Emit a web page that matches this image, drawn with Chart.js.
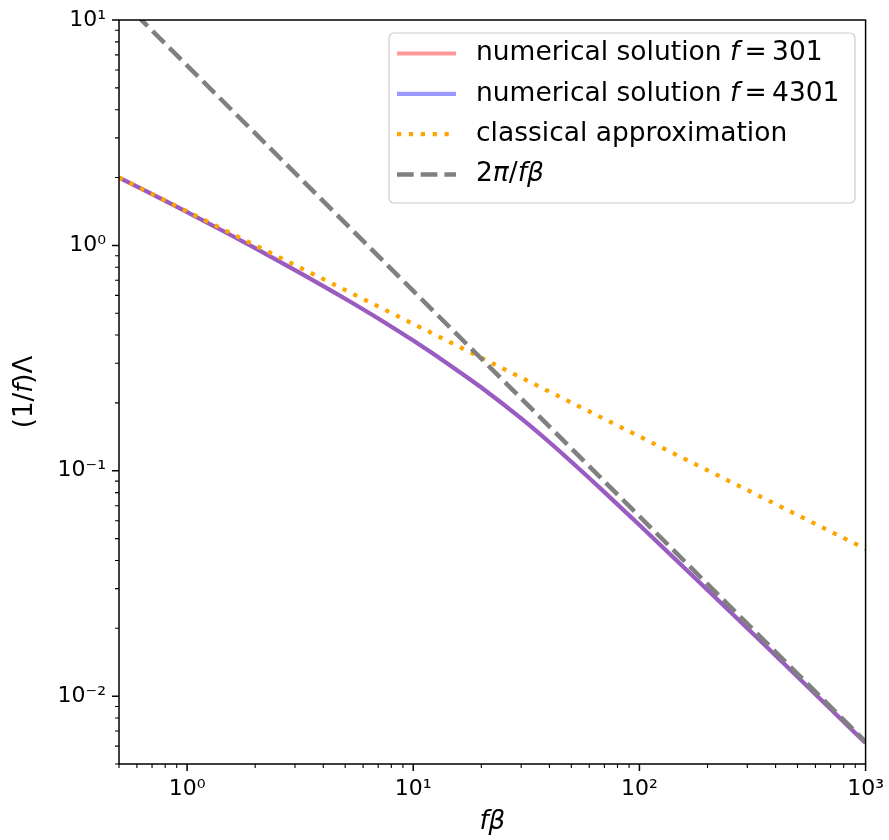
<!DOCTYPE html>
<html>
<head>
<meta charset="utf-8">
<script src="https://cdn.jsdelivr.net/npm/chart.js@4.4.0/dist/chart.umd.min.js"></script>
<style>
  html, body { margin: 0; padding: 0; background: #fff; }
</style>
</head>
<body>
<canvas id="chart" width="889" height="840"></canvas>
<script>
// f*beta sample points and the curves
const fBeta = [0.5, 0.7, 1, 1.5, 2, 3, 5, 7, 10, 15, 20, 30, 40, 50, 70, 100, 150, 200, 300, 500, 700, 1000];
const numerical301 = [2.00, 1.69, 1.405, 1.135, 0.972, 0.777, 0.580, 0.474, 0.378, 0.2875, 0.2341, 0.1707, 0.1338, 0.1096, 0.0804, 0.0575, 0.0390, 0.0296, 0.0200, 0.0122, 0.00878, 0.00619];
const numerical4301 = [2.00, 1.69, 1.405, 1.135, 0.972, 0.777, 0.580, 0.474, 0.378, 0.2875, 0.2341, 0.1707, 0.1338, 0.1096, 0.0804, 0.0575, 0.0390, 0.0296, 0.0200, 0.0122, 0.00878, 0.00619];
const classicalX = [0.5, 1000];
const classicalY = [2.0, 0.045];
const limitX = [0.5, 1000];
const limitY = [12.57, 0.00628];

const xMajorTicks = [1, 10, 100, 1000];
const xMinorTicks = [0.5, 0.6, 0.7, 0.8, 0.9, 2, 3, 4, 5, 6, 7, 8, 9, 20, 30, 40, 50, 60, 70, 80, 90, 200, 300, 400, 500, 600, 700, 800, 900];
const yMajorTicks = [0.01, 0.1, 1, 10];
const yMinorTicks = [0.005, 0.006, 0.007, 0.008, 0.009, 0.02, 0.03, 0.04, 0.05, 0.06, 0.07, 0.08, 0.09, 0.2, 0.3, 0.4, 0.5, 0.6, 0.7, 0.8, 0.9, 2, 3, 4, 5, 6, 7, 8, 9];

const FONT = "'DejaVu Sans'";
const SUP = {'-': '\u207B', '0': '\u2070', '1': '\u00B9', '2': '\u00B2', '3': '\u00B3'};
function powLabel(v) {
    const e = String(Math.round(Math.log10(v)));
    return '10' + e.split('').map(c => SUP[c]).join('');
}

function pts(xs, ys) {
    return xs.map((v, i) => ({x: v, y: ys[i]}));
}

// draws a run of text pieces, some italic, starting at x
function drawRich(ctx, parts, x, y, size, align) {
    let total = 0;
    parts.forEach(p => {
        ctx.font = (p.it ? 'italic ' : '') + size + 'px ' + FONT;
        p.w = ctx.measureText(p.t).width;
        total += p.w;
    });
    let cx = align === 'center' ? x - total / 2 : x;
    parts.forEach(p => {
        ctx.font = (p.it ? 'italic ' : '') + size + 'px ' + FONT;
        ctx.textAlign = 'left';
        ctx.fillText(p.t, cx, y);
        cx += p.w;
    });
}

const legendRows = [
    {parts: [{t: 'numerical solution '}, {t: 'f', it: true}, {t: '\u2009=\u2009301'}], ds: 3},
    {parts: [{t: 'numerical solution '}, {t: 'f', it: true}, {t: '\u2009=\u20094301'}], ds: 2},
    {parts: [{t: 'classical approximation'}], ds: 1},
    {parts: [{t: '2'}, {t: '\u03C0', it: true}, {t: '/'}, {t: 'f\u03B2', it: true}], ds: 0}
];

const decor = {
    id: 'decor',
    afterDatasetsDraw(chart) {
        const {ctx, chartArea: a, scales: {x, y}} = chart;
        ctx.save();
        ctx.strokeStyle = '#000';
        ctx.lineWidth = 1.5;
        ctx.strokeRect(a.left, a.top, a.right - a.left, a.bottom - a.top);

        const tick = (len, xs, ys) => {
            ctx.beginPath();
            xs.forEach(v => {
                const p = x.getPixelForValue(v);
                ctx.moveTo(p, a.bottom);
                ctx.lineTo(p, a.bottom + len);
            });
            ys.forEach(v => {
                const p = y.getPixelForValue(v);
                ctx.moveTo(a.left, p);
                ctx.lineTo(a.left - len, p);
            });
            ctx.stroke();
        };
        ctx.lineWidth = 1.5;
        tick(7, xMajorTicks, yMajorTicks);
        ctx.lineWidth = 1.1;
        tick(4, xMinorTicks, yMinorTicks);

        // axis titles
        ctx.fillStyle = '#000';
        ctx.textBaseline = 'middle';
        drawRich(ctx, [{t: 'f\u03B2', it: true}], (a.left + a.right) / 2, 822, 26, 'center');
        ctx.save();
        ctx.translate(25, (a.top + a.bottom) / 2);
        ctx.rotate(-Math.PI / 2);
        drawRich(ctx, [{t: '(1/'}, {t: 'f', it: true}, {t: ')\u039B'}], 0, 0, 26, 'center');
        ctx.restore();

        // legend
        const bx = 389, by = 33, bw = 466, bh = 170;
        ctx.beginPath();
        ctx.roundRect(bx, by, bw, bh, 5);
        ctx.fillStyle = 'rgba(255,255,255,0.8)';
        ctx.fill();
        ctx.strokeStyle = '#cccccc';
        ctx.lineWidth = 1.2;
        ctx.stroke();

        legendRows.forEach((row, i) => {
            const ds = chart.data.datasets[row.ds];
            const cy = 53.5 + i * 40.3;
            ctx.beginPath();
            ctx.strokeStyle = ds.borderColor;
            ctx.lineWidth = ds.borderWidth;
            ctx.setLineDash(ds.borderDash || []);
            ctx.moveTo(397, cy);
            ctx.lineTo(456, cy);
            ctx.stroke();
            ctx.setLineDash([]);
            ctx.fillStyle = '#000';
            ctx.textBaseline = 'middle';
            drawRich(ctx, row.parts, 476, cy, 26.5, 'left');
        });
        ctx.restore();
    }
};

Chart.defaults.font.family = FONT;
Chart.defaults.color = '#000';

new Chart(document.getElementById('chart'), {
    type: 'line',
    data: {
        datasets: [
            {
                label: '2\u03C0/f\u03B2',
                data: pts(limitX, limitY),
                borderColor: '#808080',
                borderWidth: 4.5,
                borderDash: [16.7, 7.0],
                order: 1
            },
            {
                label: 'classical approximation',
                data: pts(classicalX, classicalY),
                borderColor: '#ffa500',
                borderWidth: 4.2,
                borderDash: [4.2, 7.7],
                order: 2
            },
            {
                label: 'numerical solution f = 4301',
                data: pts(fBeta, numerical4301),
                borderColor: 'rgba(0,0,255,0.4)',
                borderWidth: 4.2,
                cubicInterpolationMode: 'monotone',
                order: 3
            },
            {
                label: 'numerical solution f = 301',
                data: pts(fBeta, numerical301),
                borderColor: 'rgba(255,0,0,0.4)',
                borderWidth: 4.2,
                cubicInterpolationMode: 'monotone',
                order: 4
            }
        ]
    },
    options: {
        responsive: false,
        animation: false,
        events: [],
        clip: 0,
        elements: {point: {radius: 0}, line: {borderCapStyle: 'butt'}},
        layout: {padding: {left: 0, top: 20, right: 21, bottom: 0}},
        plugins: {legend: {display: false}, tooltip: {enabled: false}},
        scales: {
            x: {
                type: 'logarithmic',
                min: 0.5,
                max: 1000,
                grid: {display: false, drawTicks: true, tickLength: 7},
                border: {display: false},
                afterBuildTicks: s => { s.ticks = xMajorTicks.map(v => ({value: v})); },
                afterFit: s => { s.height = 76; },
                ticks: {
                    autoSkip: false,
                    maxRotation: 0,
                    padding: 5,
                    font: {size: 22},
                    callback: v => powLabel(v)
                }
            },
            y: {
                type: 'logarithmic',
                min: 0.005,
                max: 10,
                grid: {display: false, drawTicks: true, tickLength: 7},
                border: {display: false},
                afterBuildTicks: s => { s.ticks = yMajorTicks.map(v => ({value: v})); },
                afterFit: s => { s.width = 119; },
                ticks: {
                    autoSkip: false,
                    padding: 6,
                    font: {size: 22},
                    callback: v => powLabel(v)
                }
            }
        }
    },
    plugins: [decor]
});
</script>
</body>
</html>
